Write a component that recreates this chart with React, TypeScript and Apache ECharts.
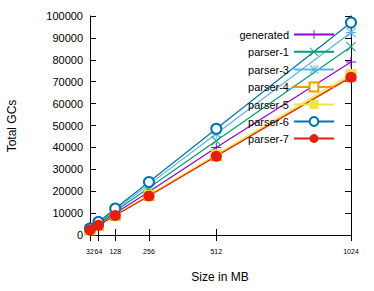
import React, { useEffect, useRef } from "react";
import * as echarts from "echarts";

const sizes = [32, 64, 128, 256, 512, 1024];
const xTickLabels = [32, 64, 128, 256, 512, 1024];
const seriesNames = ["generated", "parser-1", "parser-3", "parser-4", "parser-5", "parser-6", "parser-7"];
const generated = [2450, 4900, 9900, 19700, 40000, 79000];
const parser1 = [2700, 5400, 10800, 21600, 43000, 86000];
const parser3 = [2850, 5700, 11500, 23000, 46200, 92500];
const parser4 = [2250, 4500, 9000, 18000, 36200, 72500];
const parser5 = [2300, 4600, 9200, 18400, 36800, 73500];
const parser6 = [3000, 6000, 12100, 24200, 48500, 97000];
const parser7 = [2300, 4500, 8900, 17800, 36000, 72000];
const colors = ["#9400d3", "#009e73", "#56b4e9", "#e69f00", "#f0e442", "#0072b2", "#e51e10"];

const PLUS = "path://M4.5,0h1v4.5h4.5v1h-4.5v4.5h-1v-4.5h-4.5v-1h4.5z";
const CROSS = "path://M0,0.7L0.7,0L10,9.3L9.3,10z M9.3,0L10,0.7L0.7,10L0,9.3z";
const STAR = "path://M4.5,0h1v10h-1z M0,4.5h10v1h-10z M0,0.7L0.7,0L10,9.3L9.3,10z M9.3,0L10,0.7L0.7,10L0,9.3z";

export default function App() {
  const ref = useRef<HTMLDivElement>(null);
  useEffect(() => {
    const chart = echarts.init(ref.current!, null, { renderer: "svg" });
    const datas = [generated, parser1, parser3, parser4, parser5, parser6, parser7];
    const symbols = [PLUS, CROSS, STAR, "emptyRect", "rect", "emptyCircle", "circle"];
    const symSizes = [10, 10, 10, 9, 10, 10, 11];
    const series = seriesNames.map((name, i) => ({
      name,
      type: "line",
      data: sizes.map((s, j) => [s, datas[i][j]]),
      symbol: symbols[i],
      symbolSize: symSizes[i],
      showAllSymbol: true,
      lineStyle: { color: colors[i], width: 1.2 },
      itemStyle: { color: colors[i], borderColor: colors[i], borderWidth: i === 3 || i === 5 ? 0.9 : 0 },
      emphasis: { disabled: true },
    }));
    const axisLine = { show: true, lineStyle: { color: "#000", width: 1 } };
    const legendRows = [35, 52.3, 70, 87.5, 105, 122, 139];
    const legends = seriesNames.map((name, i) => ({
      orient: "vertical",
      right: 39,
      top: legendRows[i] - 6,
      align: "right",
      itemWidth: 40,
      itemHeight: 11,
      padding: 0,
      selectedMode: false,
      itemStyle: { borderWidth: i === 3 || i === 5 ? 0.9 : 0 },
      textStyle: {
        fontSize: 11,
        color: "#000",
        fontWeight: 400,
        textBorderWidth: 0,
        textShadowBlur: 0,
        fontFamily: "Liberation Sans",
      },
      data: [name],
    }));
    chart.setOption({
      animation: false,
      backgroundColor: "#fff",
      grid: { left: 90, right: 23, top: 16, bottom: 56 },
      xAxis: [
        {
          type: "value",
          min: 32,
          max: 1024,
          axisLine,
          splitLine: { show: false },
          axisTick: { show: true, inside: true, length: 6, customValues: xTickLabels, lineStyle: { color: "#000" } },
          axisLabel: { fontSize: 7, color: "#000", margin: 13, customValues: xTickLabels, formatter: (v: number) => String(v), fontFamily: "Liberation Sans" },
        },
        {
          type: "value",
          position: "top",
          min: 32,
          max: 1024,
          axisLine,
          splitLine: { show: false },
          axisTick: { show: true, inside: true, length: 6, customValues: xTickLabels, lineStyle: { color: "#000" } },
          axisLabel: { show: false },
        },
      ],
      yAxis: [
        {
          type: "value",
          min: 0,
          max: 100000,
          interval: 10000,
          axisLine,
          splitLine: { show: false },
          axisTick: { show: true, inside: true, length: 6, lineStyle: { color: "#000" } },
          axisLabel: { fontSize: 11, color: "#000", margin: 7, formatter: (v: number) => String(v), fontFamily: "Liberation Sans" },
        },
        {
          type: "value",
          position: "right",
          min: 0,
          max: 100000,
          interval: 10000,
          axisLine,
          splitLine: { show: false },
          axisTick: { show: true, inside: true, length: 6, lineStyle: { color: "#000" } },
          axisLabel: { show: false },
        },
      ],
      legend: legends,
      graphic: [
        {
          type: "text",
          x: 12,
          y: 126,
          rotation: Math.PI / 2,
          style: { text: "Total GCs", fontSize: 12, fill: "#000", align: "center", verticalAlign: "middle", fontFamily: "Liberation Sans" },
        },
        {
          type: "text",
          x: 220,
          y: 277,
          style: { text: "Size in MB", fontSize: 12, fill: "#000", align: "center", verticalAlign: "middle", fontFamily: "Liberation Sans" },
        },
      ],
      series,
    });
    return () => chart.dispose();
  }, []);
  return <div ref={ref} style={{ width: 374, height: 291, position: "absolute", left: 0, top: 0 }} />;
}
